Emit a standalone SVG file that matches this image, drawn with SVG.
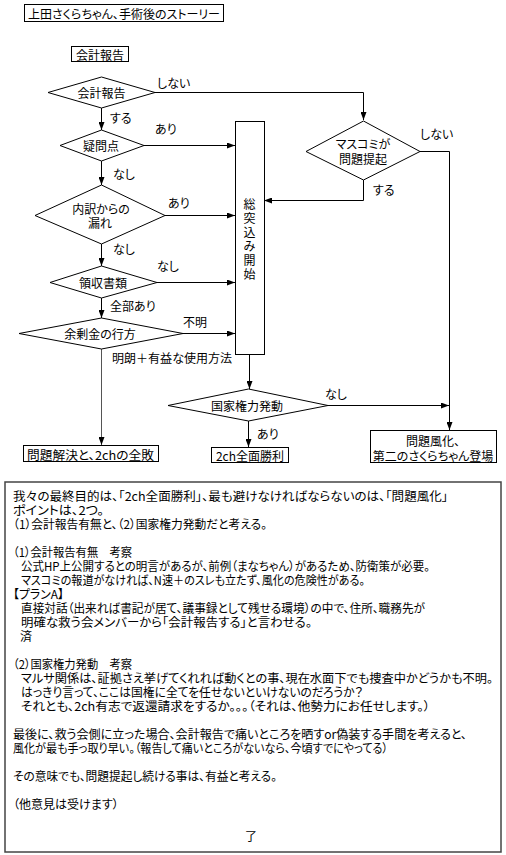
<svg xmlns="http://www.w3.org/2000/svg" width="506" height="855" viewBox="0 0 506 855">
<style>
.t{font-family:"Noto Sans CJK JP","Noto Sans CJK SC",sans-serif;font-size:12px;fill:#000;font-feature-settings:"palt";dominant-baseline:central}
.m{text-anchor:middle}
.n{fill:#fff;stroke:#000;stroke-width:1}
.e{fill:none;stroke:#000;stroke-width:1}
.ea{fill:none;stroke:#000;stroke-width:1;marker-end:url(#a)}
.g{stroke:#555}
</style>
<defs>
<marker id="a" viewBox="0 0 8 6" refX="8" refY="3" markerWidth="8" markerHeight="6" orient="auto" markerUnits="userSpaceOnUse"><path d="M0,0L8,3L0,6z" fill="#000"/></marker>
</defs>
<rect width="506" height="855" fill="#fff"/>

<g id="title"><rect class="n" x="24.5" y="4.5" width="199" height="17"/><text class="t" x="28" y="13" textLength="192" lengthAdjust="spacingAndGlyphs">上田さくらちゃん、手術後のストーリー</text></g>
<g id="header"><rect class="n" x="71.5" y="46.5" width="57" height="15"/><text class="t m" x="100" y="54">会計報告</text></g>

<g id="connectors">
<path class="ea" d="M155,92.5H363.5V120"/>
<path class="ea" d="M101.5,108V130"/>
<path class="ea" d="M144,145.5H235"/>
<path class="ea" d="M101.5,161V185"/>
<path class="ea" d="M165,215.5H235"/>
<path class="ea" d="M101.5,244V266"/>
<path class="ea" d="M157,282.5H235"/>
<path class="ea" d="M101.5,298V318"/>
<path class="ea" d="M183,333.5H235"/>
<path class="ea g" d="M101.5,349V445"/>
<path class="ea" d="M363.5,180V200.5H264"/>
<path class="ea" d="M420,151.5H449.5V430"/>
<path class="ea" d="M249.5,354V389"/>
<path class="ea" d="M328,405.5H449"/>
<path class="ea" d="M248.5,421V447"/>
</g>

<g id="labels">
<text class="t" x="157" y="82">しない</text>
<text class="t" x="110" y="117">する</text>
<text class="t" x="155" y="128">あり</text>
<text class="t" x="113" y="173">なし</text>
<text class="t" x="168" y="202">あり</text>
<text class="t" x="113" y="248">なし</text>
<text class="t" x="157" y="265">なし</text>
<text class="t" x="110" y="305">全部あり</text>
<text class="t" x="183" y="321">不明</text>
<text class="t" x="112" y="357" textLength="120" lengthAdjust="spacingAndGlyphs">明朗＋有益な使用方法</text>
<text class="t" x="420" y="133">しない</text>
<text class="t" x="373" y="189">する</text>
<text class="t" x="325" y="393">なし</text>
<text class="t" x="257" y="433">あり</text>
</g>

<g id="d1"><polygon class="n" points="48,92.5 101.5,77 155,92.5 101.5,108"/><text class="t m" x="101.5" y="92">会計報告</text></g>
<g id="d2"><polygon class="n" points="60,145.5 101.5,130 144,145.5 101.5,161"/><text class="t m" x="101" y="145">疑問点</text></g>
<g id="d3"><polygon class="n" points="35,215.5 101.5,185 165,215.5 101.5,244"/><text class="t m" x="101" y="208">内訳からの</text><text class="t m" x="100" y="222">漏れ</text></g>
<g id="d4"><polygon class="n" points="50,282.5 101.5,266 157,282.5 101.5,298"/><text class="t m" x="103" y="282">領収書類</text></g>
<g id="d5"><polygon class="n" points="19,333.5 101.5,318 183,333.5 101.5,349"/><text class="t m" x="100" y="333">余剰金の行方</text></g>
<g id="d6"><polygon class="n" points="306,151.5 363.5,121 420,151.5 363.5,180"/><text class="t m" x="363" y="143">マスコミが</text><text class="t m" x="363" y="158">問題提起</text></g>
<g id="attack"><rect class="n" x="235.5" y="121.5" width="29" height="233"/>
<text class="t m"><tspan x="249.5" y="203">総</tspan><tspan x="249.5" y="217">突</tspan><tspan x="249.5" y="231">込</tspan><tspan x="249.5" y="245">み</tspan><tspan x="249.5" y="259">開</tspan><tspan x="249.5" y="273">始</tspan></text></g>
<g id="d7"><polygon class="n" points="168,405.5 248.5,389 328,405.5 248.5,421"/><text class="t m" x="247" y="405">国家権力発動</text></g>
<g id="r1"><rect class="n" x="23.5" y="445.5" width="135" height="16"/><text class="t" x="27" y="454" textLength="127" lengthAdjust="spacingAndGlyphs">問題解決と、2chの全敗</text></g>
<g id="r2"><rect class="n" x="211.5" y="447.5" width="77" height="15"/><text class="t m" x="250" y="455">2ch全面勝利</text></g>
<g id="r3"><rect class="n" x="370.5" y="430.5" width="126" height="32"/><text class="t m" x="433" y="440">問題風化、</text><text class="t m" x="433" y="455">第二のさくらちゃん登場</text></g>

<g id="note">
<rect x="5" y="482" width="496" height="370" fill="#fff" stroke="#444" stroke-width="1.5"/>
<text class="t" x="13" y="495" textLength="435" lengthAdjust="spacingAndGlyphs">我々の最終目的は、「2ch全面勝利」、最も避けなければならないのは、「問題風化」</text>
<text class="t" x="13" y="509" textLength="91" lengthAdjust="spacingAndGlyphs">ポイントは、2つ。</text>
<text class="t" x="13" y="523" textLength="254" lengthAdjust="spacingAndGlyphs">（1）会計報告有無と、（2）国家権力発動だと考える。</text>
<text class="t" x="13" y="551" textLength="119" lengthAdjust="spacingAndGlyphs">（1）会計報告有無　考察</text>
<text class="t" x="21" y="565" textLength="409" lengthAdjust="spacingAndGlyphs">公式HP上公開するとの明言があるが、前例（まなちゃん）があるため、防衛策が必要。</text>
<text class="t" x="21" y="579" textLength="344" lengthAdjust="spacingAndGlyphs">マスコミの報道がなければ、N速＋のスレも立たず、風化の危険性がある。</text>
<text class="t" x="13" y="593" textLength="51" lengthAdjust="spacingAndGlyphs">【プランA】</text>
<text class="t" x="21" y="607" textLength="404" lengthAdjust="spacingAndGlyphs">直接対話（出来れば書記が居て、議事録として残せる環境）の中で、住所、職務先が</text>
<text class="t" x="21" y="621" textLength="291" lengthAdjust="spacingAndGlyphs">明確な救う会メンバーから「会計報告する」と言わせる。</text>
<text class="t" x="20" y="635">済</text>
<text class="t" x="13" y="663" textLength="119" lengthAdjust="spacingAndGlyphs">（2）国家権力発動　考察</text>
<text class="t" x="21" y="677" textLength="472" lengthAdjust="spacingAndGlyphs">マルサ関係は、証拠さえ挙げてくれれば動くとの事、現在水面下でも捜査中かどうかも不明。</text>
<text class="t" x="21" y="691" textLength="342" lengthAdjust="spacingAndGlyphs">はっきり言って、ここは国権に全てを任せないといけないのだろうか？</text>
<text class="t" x="21" y="705" textLength="409" lengthAdjust="spacingAndGlyphs">それとも、2ch有志で返還請求をするか。。。（それは、他勢力にお任せします。）</text>
<text class="t" x="13" y="733" textLength="454" lengthAdjust="spacingAndGlyphs">最後に、救う会側に立った場合、会計報告で痛いところを晒すor偽装する手間を考えると、</text>
<text class="t" x="13" y="747" textLength="375" lengthAdjust="spacingAndGlyphs">風化が最も手っ取り早い。（報告して痛いところがないなら、今頃すでにやってる）</text>
<text class="t" x="13" y="775" textLength="264" lengthAdjust="spacingAndGlyphs">その意味でも、問題提起し続ける事は、有益と考える。</text>
<text class="t" x="13" y="803">（他意見は受けます）</text>
<text class="t m" x="251" y="835">了</text>
</g>
</svg>
